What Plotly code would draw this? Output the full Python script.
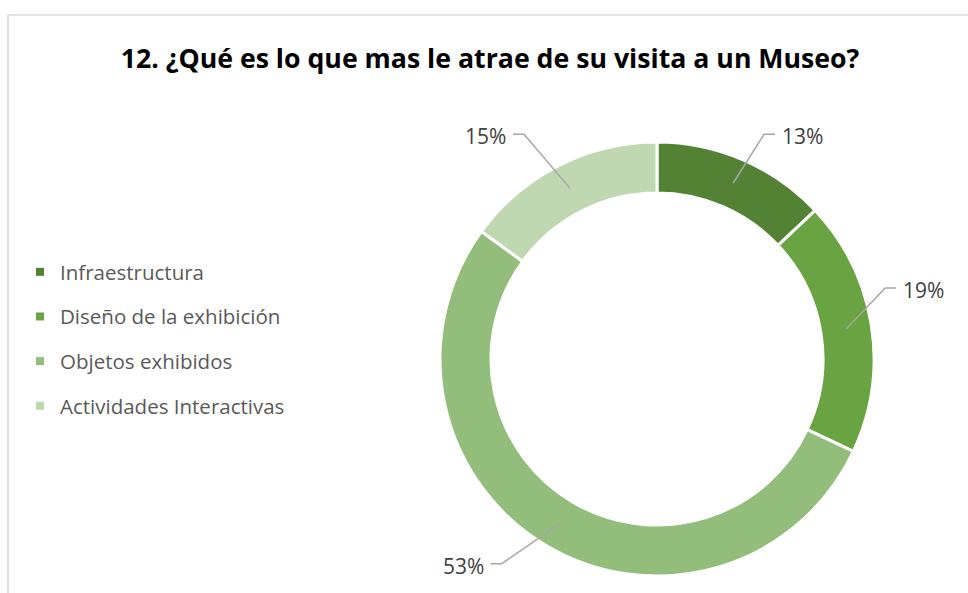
import math
import plotly.graph_objects as go

# ---- data ----
categories = ["Infraestructura", "Diseño de la exhibición", "Objetos exhibidos", "Actividades Interactivas"]
values = [13, 19, 53, 15]
colors = ["#548235", "#69A342", "#92BD7A", "#BFD8B1"]
title_text = "12. ¿Qué es lo que mas le atrae de su visita a un Museo?"

# ---- layout constants (px) ----
W, H = 968, 593
CX, CY, R = 657, 359, 217
HOLE = 0.765
leader_dx = [31, 39, 58, 46]
leader_dy = [49, 41, 40, 54]
horiz_len = 11
FONT = "Open Sans, Lato, Liberation Sans, sans-serif"

def px_x(x):
    return x / W

def px_y(y):
    return 1 - y / H

fig = go.Figure()
fig.add_trace(go.Pie(
    labels=categories, values=values, hole=HOLE, sort=False, direction="clockwise",
    rotation=0, marker=dict(colors=colors, line=dict(color="white", width=3)),
    textinfo="none", showlegend=False, hoverinfo="label+percent",
    domain=dict(x=[px_x(CX - R), px_x(CX + R)], y=[px_y(CY + R), px_y(CY - R)]),
))

# legend via dummy traces
for i, (c, col) in enumerate(zip(categories, colors)):
    fig.add_trace(go.Scatter(
        x=[None], y=[None], mode="markers", name=c, legendgroup=f"g{i}",
        marker=dict(symbol="square", size=8, color=col),
    ))

shapes = []
annotations = []
total = sum(values)
cum = 0
r_mid = R * (1 + HOLE) / 2
for i, v in enumerate(values):
    mid = (cum + v / 2) / total * 2 * math.pi
    cum += v
    sx, sy = math.sin(mid), math.cos(mid)
    ax, ay = CX + r_mid * sx, CY - r_mid * sy
    dxs = 1 if sx >= 0 else -1
    dys = -1 if sy >= 0 else 1
    ex, ey = ax + dxs * leader_dx[i], ay + dys * leader_dy[i]
    hx = ex + dxs * horiz_len
    shapes.append(dict(type="path", xref="paper", yref="paper",
                       path=f"M {px_x(ax)},{px_y(ay)} L {px_x(ex)},{px_y(ey)} L {px_x(hx)},{px_y(ey)}",
                       line=dict(color="#A6A6A6", width=1.5)))
    pct = round(v / total * 100)
    annotations.append(dict(
        x=px_x(hx + dxs * 5), y=px_y(ey + 2), xref="paper", yref="paper",
        text=f"{pct}%", showarrow=False,
        xanchor="left" if dxs > 0 else "right", yanchor="middle",
        font=dict(size=21, color="#404040", family=FONT),
    ))

# chart area border
shapes.append(dict(type="rect", xref="paper", yref="paper",
                   x0=px_x(8), x1=px_x(W + 20), y0=px_y(H + 20), y1=px_y(15),
                   line=dict(color="#D9D9D9", width=1.5), fillcolor="rgba(0,0,0,0)", layer="below"))

fig.update_layout(
    width=W, height=H,
    margin=dict(l=0, r=0, t=0, b=0),
    paper_bgcolor="white", plot_bgcolor="white",
    title=dict(text=f"<b>{title_text}</b>", x=490 / W, xanchor="center",
               y=px_y(59), yanchor="middle",
               font=dict(size=26.7, color="#000000", family=FONT)),
    xaxis=dict(visible=False), yaxis=dict(visible=False),
    legend=dict(x=px_x(20), y=px_y(252), xanchor="left", yanchor="top",
                font=dict(size=20.5, color="#595959", family=FONT),
                tracegroupgap=15, itemwidth=30, bgcolor="rgba(0,0,0,0)"),
    shapes=shapes, annotations=annotations,
)

fig.write_html("out.html", config={"displayModeBar": False},
               post_script="document.body.style.margin='0';document.body.style.padding='0';")
